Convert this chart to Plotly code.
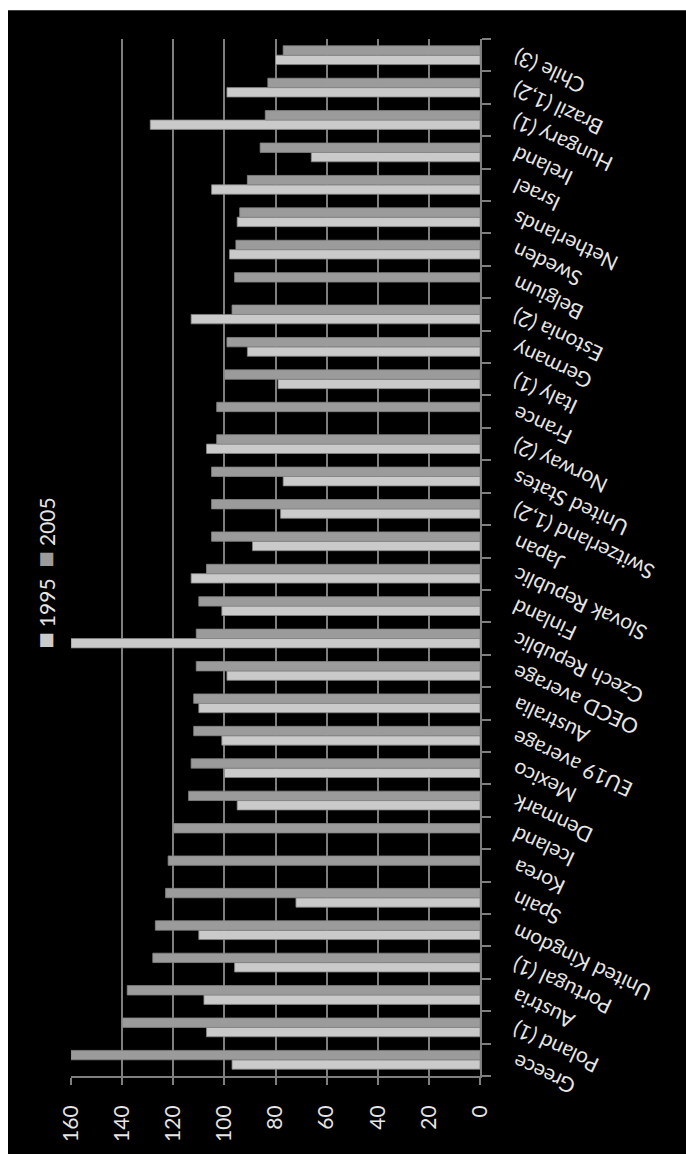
import plotly.graph_objects as go

# Categories listed from the bottom of the chart to the top
categories = [
    "Greece", "Poland (1)", "Austria", "Portugal (1)", "United Kingdom", "Spain",
    "Korea", "Iceland", "Denmark", "Mexico", "EU19 average", "Australia",
    "OECD average", "Czech Republic", "Finland", "Slovak Republic", "Japan",
    "Switzerland (1,2)", "United States", "Norway (2)", "France", "Italy (1)",
    "Germany", "Estonia (2)", "Belgium", "Sweden", "Netherlands", "Israel",
    "Ireland", "Hungary (1)", "Brazil (1,2)", "Chile (3)",
]

values_1995 = [
    97, 107, 108, 96, 110, 72,
    None, None, 95, 100, 101, 110,
    99, 160, 101, 113, 89,
    78, 77, 107, None, 79,
    91, 113, None, 98, 95, 105,
    66, 129, 99, 80,
]

values_2005 = [
    160, 140, 138, 128, 127, 123,
    122, 120, 114, 113, 112, 112,
    111, 111, 110, 107, 105,
    105, 105, 103, 103, 100,
    99, 97, 96, 95.5, 94, 91,
    86, 84, 83, 77,
]

value_ticks = [0, 20, 40, 60, 80, 100, 120, 140, 160]
series_names = ["1995", "2005"]
series_colors = ["#cacaca", "#9b9b9b"]

FONT = "Lato, 'Open Sans', sans-serif"
TEXT_COLOR = "#e6e6e6"
GRID_COLOR = "#7f7f7f"

W, H = 686, 1154
M_L, M_R, M_T, M_B = 71, 206, 39, 68
PLOT_W = W - M_L - M_R
PLOT_H = H - M_T - M_B

fig = go.Figure()
for name, vals, color in zip(series_names, [values_1995, values_2005], series_colors):
    fig.add_trace(go.Bar(
        name=name,
        x=vals,
        y=categories,
        orientation="h",
        marker=dict(color=color, line=dict(color="#858585", width=0.8)),
    ))

# Category labels, drawn upside down along the right-hand axis
annotations = []
for cat in categories:
    annotations.append(dict(
        text=cat, xref="paper", yref="y", x=1, y=cat,
        xanchor="left", yanchor="top", xshift=26, yshift=13,
        textangle=-155, showarrow=False,
        font=dict(family=FONT, size=21, color=TEXT_COLOR),
    ))

# Rotated legend on the left
legend_text = (
    f"<span style='color:{series_colors[0]};font-size:27px'>■</span> {series_names[0]}  "
    f"<span style='color:{series_colors[1]};font-size:27px'>■</span> {series_names[1]}"
)
annotations.append(dict(
    text=legend_text, xref="paper", yref="paper",
    x=(45 - M_L) / PLOT_W, y=(H - M_B - 578) / PLOT_H,
    xanchor="center", yanchor="middle", textangle=-90, showarrow=False,
    font=dict(family=FONT, size=21, color=TEXT_COLOR),
))

# White border strips along the top and left edges
shapes = [
    dict(type="rect", xref="paper", yref="paper", layer="above",
         x0=(-M_L - 5) / PLOT_W, x1=(8 - M_L) / PLOT_W, y0=-1, y1=2,
         fillcolor="white", line=dict(width=0)),
    dict(type="rect", xref="paper", yref="paper", layer="above",
         x0=-1, x1=2, y0=(PLOT_H + M_T - 10) / PLOT_H, y1=2,
         fillcolor="white", line=dict(width=0)),
]

fig.update_layout(
    width=W, height=H,
    margin=dict(l=M_L, r=M_R, t=M_T, b=M_B, pad=0),
    paper_bgcolor="black", plot_bgcolor="black",
    barmode="group", bargap=0.42, bargroupgap=0,
    showlegend=False,
    font=dict(family=FONT, size=21, color=TEXT_COLOR),
    annotations=annotations,
    shapes=shapes,
    xaxis=dict(
        range=[160, 0], tickvals=value_ticks, ticktext=[str(v) for v in value_ticks],
        tickangle=-90, ticks="outside", ticklen=7, tickwidth=2, tickcolor=GRID_COLOR,
        showgrid=True, gridcolor=GRID_COLOR, gridwidth=2,
        showline=True, linecolor=GRID_COLOR, linewidth=2,
        zeroline=False, ticklabelstandoff=12,
        tickfont=dict(family=FONT, size=21, color=TEXT_COLOR),
    ),
    yaxis=dict(
        side="right", type="category", categoryorder="array", categoryarray=categories,
        range=[-0.5, len(categories) - 0.5],
        showticklabels=False, ticks="outside", ticklen=9, tickwidth=2,
        tickcolor=GRID_COLOR, tickson="boundaries",
        showgrid=False, showline=True, linecolor=GRID_COLOR, linewidth=2,
        zeroline=False,
    ),
)

fig.write_html("out.html")
